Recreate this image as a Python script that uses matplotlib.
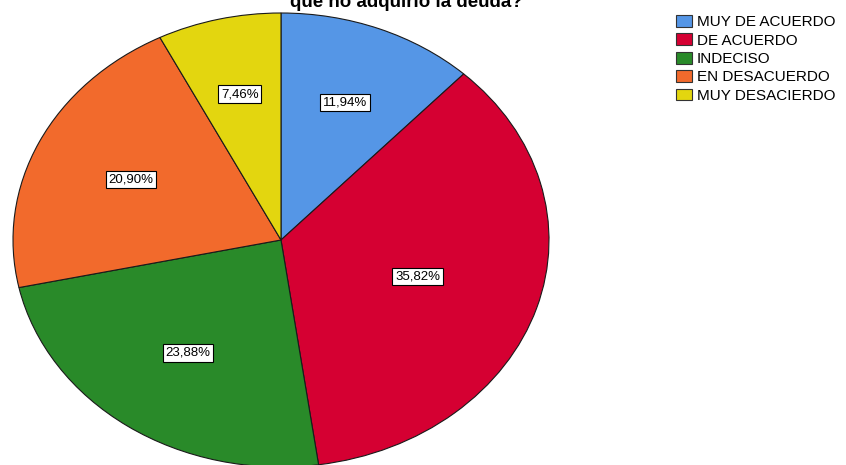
import math
import matplotlib.pyplot as plt
from matplotlib.patches import Patch

plt.rcParams['font.family'] = ['Liberation Sans', 'DejaVu Sans']

categorias = ["MUY DE ACUERDO", "DE ACUERDO", "INDECISO", "EN DESACUERDO", "MUY DESACIERDO"]
porcentajes = [11.94, 35.82, 23.88, 20.90, 7.46]
colores = ["#5596E6", "#D50032", "#298A29", "#F26A2C", "#E3D60F"]

fig = plt.figure(figsize=(8.46, 4.65), dpi=100)
W, H = 846, 465
# pie is stretched into an ellipse: centre (281, 240) px, radii 268 x 227
ax = fig.add_axes([13 / W, (H - 240 - 227) / H, 536 / W, 454 / H])

wedges, textos = ax.pie(
    porcentajes, colors=colores, startangle=90, counterclock=False,
    wedgeprops=dict(edgecolor="#1a1a1a", linewidth=0.8))
for w in wedges:
    w.set_clip_on(False)

# labels at the centroid of each wedge
for w, p in zip(wedges, porcentajes):
    mitad = math.radians(w.theta2 - w.theta1) / 2
    d = 2 * math.sin(mitad) / (3 * mitad)
    ang = math.radians((w.theta1 + w.theta2) / 2)
    ax.text(d * math.cos(ang), d * math.sin(ang), ("%.2f%%" % p).replace(".", ","),
            ha="center", va="center", fontsize=9.5, color="black",
            bbox=dict(facecolor="white", edgecolor="black", linewidth=0.8, pad=2))

ax.set_aspect("auto")
ax.set_xlim(-1, 1)
ax.set_ylim(-1, 1)
ax.axis("off")

fig.text(406 / W, 1 - 7 / H, "que no adquirió la deuda?", ha="center", va="baseline",
         fontsize=13.5, fontweight="bold")

handles = [Patch(facecolor=c, edgecolor="#333333", linewidth=0.8) for c in colores]
fig.legend(handles, categorias, loc="upper left", bbox_to_anchor=(676 / W, 1 - 15 / H),
           frameon=False, fontsize=11, handlelength=1.05, handleheight=0.8,
           handletextpad=0.32, labelspacing=0.28, borderaxespad=0, borderpad=0)

fig.savefig("out.png", dpi=100)
